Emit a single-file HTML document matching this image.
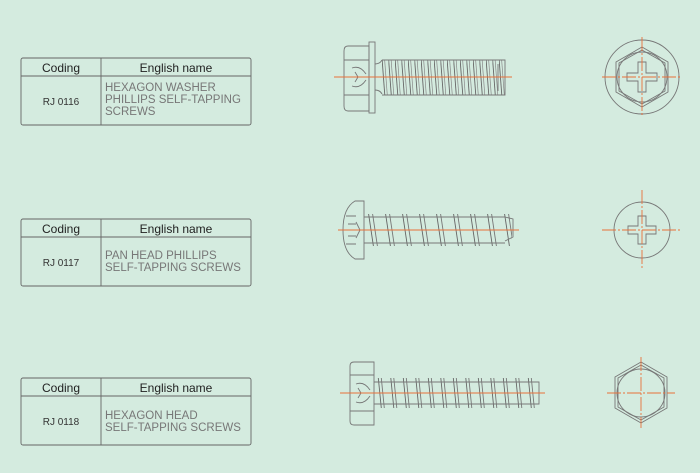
<!DOCTYPE html>
<html><head><meta charset="utf-8"><style>
html,body{margin:0;padding:0;background:#d4ebdf;}
svg{display:block}
text{font-family:"Liberation Sans",sans-serif;}
</style></head><body>
<svg width="700" height="473" viewBox="0 0 700 473" xmlns="http://www.w3.org/2000/svg">
<defs>
<pattern id="t1" patternUnits="userSpaceOnUse" width="6.5" height="40" x="382" y="58">
<line x1="0" y1="0" x2="3" y2="40" stroke="#666" stroke-width="0.9"/>
<line x1="2.5" y1="0" x2="5.5" y2="40" stroke="#888" stroke-width="0.7"/>
</pattern>
<pattern id="t2" patternUnits="userSpaceOnUse" width="17" height="40" x="366" y="210">
<line x1="2" y1="0" x2="8" y2="40" stroke="#666" stroke-width="0.9"/>
<line x1="6" y1="0" x2="12" y2="40" stroke="#777" stroke-width="0.9"/>
</pattern>
<pattern id="t3" patternUnits="userSpaceOnUse" width="12.5" height="40" x="376" y="375">
<line x1="2" y1="0" x2="6" y2="40" stroke="#666" stroke-width="0.9"/>
<line x1="5" y1="0" x2="9" y2="40" stroke="#777" stroke-width="0.9"/>
</pattern>
</defs>
<g fill="none" stroke="#666" stroke-width="0.9">
<rect x="21" y="58" width="230" height="67" rx="2"/>
<line x1="21" y1="76" x2="251" y2="76"/><line x1="101" y1="58" x2="101" y2="125"/>
<rect x="21" y="219" width="230" height="67" rx="2"/>
<line x1="21" y1="237" x2="251" y2="237"/><line x1="101" y1="219" x2="101" y2="286"/>
<rect x="21" y="378" width="230" height="67" rx="2"/>
<line x1="21" y1="396" x2="251" y2="396"/><line x1="101" y1="378" x2="101" y2="445"/>
</g>
<g fill="#222" font-size="12" text-anchor="middle">
<text x="61" y="72">Coding</text><text x="176" y="72">English name</text>
<text x="61" y="233">Coding</text><text x="176" y="233">English name</text>
<text x="61" y="392">Coding</text><text x="176" y="392">English name</text>
</g>
<g fill="#333" font-size="10" text-anchor="middle">
<text x="61" y="105">RJ 0116</text><text x="61" y="266">RJ 0117</text><text x="61" y="425">RJ 0118</text>
</g>
<g fill="#777" font-size="11.5">
<text x="105" y="91">HEXAGON WASHER</text><text x="105" y="103">PHILLIPS SELF-TAPPING</text><text x="105" y="115">SCREWS</text>
<text x="105" y="259">PAN HEAD PHILLIPS</text><text x="105" y="271">SELF-TAPPING SCREWS</text>
<text x="105" y="419">HEXAGON HEAD</text><text x="105" y="431">SELF-TAPPING SCREWS</text>
</g>

<g fill="none" stroke="#777" stroke-width="0.9">
<path d="M348 46 H369 V111 H348 Q344 111 344 106 V51 Q344 46 348 46Z"/>
<line x1="344" y1="60" x2="369" y2="60"/><line x1="344" y1="95" x2="369" y2="95"/>
<path d="M352 68 q8 -3 14 6 M352 86 q8 3 14 -6 M355 72 l3 5 l-3 5"/>
<rect x="369" y="42" width="6" height="71"/>
<path d="M375 64 q5 0 7 -4 M375 90 q5 0 7 4"/>
<rect x="382" y="60" width="123" height="35" fill="url(#t1)" stroke="none"/>
<path d="M382 60 H505 V95 H382"/>
<line x1="498" y1="64" x2="498" y2="91"/>
</g>
<line x1="334" y1="77" x2="512" y2="77" stroke="#e8703a" stroke-width="0.9"/>
<g fill="none" stroke="#777" stroke-width="0.9">
<circle cx="642" cy="77" r="37"/>
<polygon points="642,47 668,62 668,92 642,107 616,92 616,62"/>
<polygon points="642,50 665,63 665,91 642,104 619,91 619,63"/>
<circle cx="642" cy="77" r="25"/>
<path d="M638 62 h8 v11 h11 v8 h-11 v11 h-8 v-11 h-11 v-8 h11z"/>
</g>
<g stroke="#e8703a" stroke-width="0.9" stroke-dasharray="14 2 2 2">
<line x1="602" y1="77" x2="682" y2="77"/><line x1="642" y1="37" x2="642" y2="117"/>
</g>

<g fill="none" stroke="#777" stroke-width="0.9">
<path d="M364 201 H355 Q343 208 343 230 Q343 252 355 259 H364Z"/>
<path d="M346 216 h10 M346 244 h10 M348 224 h8 M348 236 h8 M356 222 l4 8 l-4 8"/>
<rect x="364" y="214" width="148" height="32" fill="url(#t2)" stroke="none"/>
<path d="M364 217 H505 M364 243 H505 M505 217 l8 2 v18 l-8 4"/>
</g>
<line x1="338" y1="230" x2="519" y2="230" stroke="#e8703a" stroke-width="0.9"/>
<g fill="none" stroke="#777" stroke-width="0.9">
<circle cx="642" cy="230" r="28"/>
<path d="M638 216 h8 v10 h10 v8 h-10 v10 h-8 v-10 h-10 v-8 h10z"/>
</g>
<g stroke="#e8703a" stroke-width="0.9" stroke-dasharray="14 2 2 2">
<line x1="602" y1="230" x2="680" y2="230"/><line x1="642" y1="190" x2="642" y2="270"/>
</g>

<g fill="none" stroke="#777" stroke-width="0.9">
<path d="M354 362 H374 V425 H354 Q350 425 350 421 V366 Q350 362 354 362Z"/>
<line x1="350" y1="375" x2="374" y2="375"/><line x1="350" y1="411" x2="374" y2="411"/>
<path d="M356 384 q8 -3 14 6 M356 402 q8 3 14 -6 M358 388 l3 5 l-3 5"/>
<rect x="374" y="378" width="166" height="30" fill="url(#t3)" stroke="none"/>
<path d="M374 382 H539 V404 H374"/>
</g>
<line x1="340" y1="393" x2="545" y2="393" stroke="#e8703a" stroke-width="0.9"/>
<g fill="none" stroke="#777" stroke-width="0.9">
<polygon points="641,362 667,377 667,408 641,423 615,408 615,377"/>
<polygon points="641,365 664,378 664,407 641,420 618,407 618,378"/>
<circle cx="641" cy="393" r="24"/>
</g>
<g stroke="#e8703a" stroke-width="0.9" stroke-dasharray="14 2 2 2">
<line x1="607" y1="393" x2="675" y2="393"/><line x1="641" y1="357" x2="641" y2="428"/>
</g>
</svg>
</body></html>
